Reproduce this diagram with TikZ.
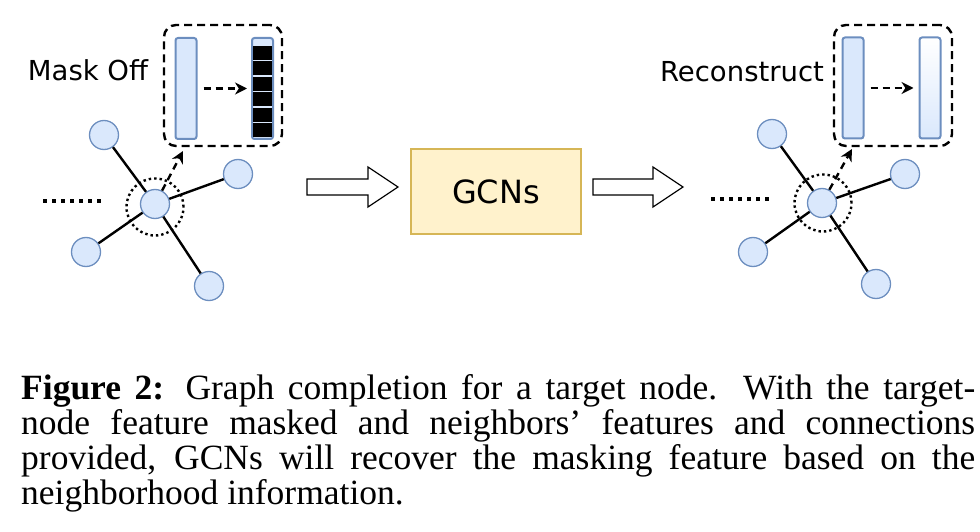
\documentclass[tikz,border=0pt]{standalone}
\usepackage{fontspec}
\setmainfont{Liberation Serif}
\newfontfamily\labelfont{DejaVu Sans}
\usetikzlibrary{arrows.meta}
\definecolor{nodeblue}{HTML}{DAE8FC}
\definecolor{nodeedge}{HTML}{6C8EBF}
\definecolor{gcnfill}{HTML}{FFF2CC}
\definecolor{gcnedge}{HTML}{D6B656}

\begin{document}
\begin{tikzpicture}[x=1pt,y=-1pt,
  vertex/.style={circle,draw=nodeedge,fill=nodeblue,line width=1.3pt,
                 minimum size=29pt,inner sep=0pt},
  ring/.style={circle,draw,line width=2.4pt,dash pattern=on 2.4pt off 3pt,
               minimum size=57pt,inner sep=0pt},
  featbar/.style={draw=nodeedge,fill=nodeblue,line width=2pt,rounded corners=2.5pt,
                  minimum width=21pt,minimum height=101pt,inner sep=0pt},
  groupbox/.style={draw,line width=2.4pt,rounded corners=12pt,
                   dash pattern=on 8pt off 5pt,minimum width=118pt,minimum height=121pt},
  gcnbox/.style={draw=gcnedge,fill=gcnfill,line width=2pt,minimum width=170pt,
                 minimum height=85pt,font=\labelfont\fontsize{32}{36}\selectfont},
  link/.style={line width=2.4pt},
  flow/.style={line width=2.4pt,dash pattern=on 7pt off 5pt,-{Stealth[length=12pt,width=12pt]}},
  dots/.style={line width=3.5pt,dash pattern=on 3.5pt off 5.5pt},
  bigarrow/.style={draw,line width=1.2pt,fill=white},
  lbl/.style={font=\labelfont\fontsize{27.5}{30}\selectfont},
  caption/.style={text width=954pt,align=justify,inner sep=0pt,
                  font=\fontsize{35.5}{35}\selectfont}]

\useasboundingbox (0,0) rectangle (980,532);

% left graph: target node masked
\node[vertex] (cL) at (155,204) {};
\node[vertex] (aL) at (104,135) {};
\node[vertex] (bL) at (238,174) {};
\node[vertex] (dL) at (86,252) {};
\node[vertex] (eL) at (209,286) {};
\node[ring] (rL) at (155,207) {};

\draw[link] (cL) -- (aL);
\draw[link] (cL) -- (bL);
\draw[link] (cL) -- (dL);
\draw[link] (cL) -- (eL);

\coordinate (d1L) at (43,201);
\coordinate (d2L) at (105,201);
\draw[dots] (d1L) -- (d2L);

\node[groupbox] (boxL) at (223,85.5) {};
\node[featbar] (vL) at (186,88.5) {};
\node[featbar] (mL) at (262.5,88.5) {};
\foreach \k in {0,...,5}
  \fill (253,46+\k*15.5) rectangle (272,60+\k*15.5);
\draw[flow,shorten <=6pt,shorten >=4pt] (vL) -- (mL);

\coordinate (tipL) at (183,151);
\draw[flow] (cL) -- (tipL);
\node[lbl] (maskoff) at (88,70) {Mask Off};

% model
\draw[bigarrow] (307,179) -- (368,179) -- (368,167) -- (398,187)
  -- (368,207) -- (368,195) -- (307,195) -- cycle;
\node[gcnbox] (gcn) at (496,191.5) {GCNs};
\draw[bigarrow] (593,179) -- (653,179) -- (653,167) -- (683,187)
  -- (653,207) -- (653,195) -- (593,195) -- cycle;

% right graph: target node recovered
\node[vertex] (cR) at (822,203) {};
\node[vertex] (aR) at (772,134) {};
\node[vertex] (bR) at (905,174) {};
\node[vertex] (dR) at (753,252) {};
\node[vertex] (eR) at (876,284) {};
\node[ring] (rR) at (823,203) {};

\draw[link] (cR) -- (aR);
\draw[link] (cR) -- (bR);
\draw[link] (cR) -- (dR);
\draw[link] (cR) -- (eR);

\coordinate (d1R) at (711,199);
\coordinate (d2R) at (773,199);
\draw[dots] (d1R) -- (d2R);

\node[groupbox] (boxR) at (893,85.5) {};
\node[featbar] (vR) at (853,88) {};
\node[featbar,top color=white,bottom color=nodeblue] (wR) at (930,88) {};
\draw[flow,shorten <=6pt,shorten >=5pt] (vR) -- (wR);

\coordinate (tipR) at (852,149);
\draw[flow] (cR) -- (tipR);
\node[lbl] (recon) at (742,72) {Reconstruct};

% caption
\node[caption,anchor=north west] (cap) at (21,374) {\textbf{Figure 2:} Graph completion
  for a target node.  With the target-\linebreak node feature masked and neighbors'
  features and connections\linebreak provided, GCNs will recover the masking feature based on
  the\linebreak neighborhood information.};

\end{tikzpicture}
\end{document}
